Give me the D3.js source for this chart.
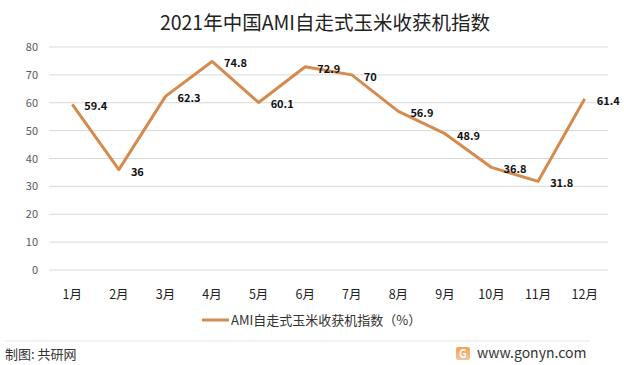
<!DOCTYPE html>
<html><head><meta charset="utf-8">
<script src="https://cdn.jsdelivr.net/npm/d3@7"></script>
<style>body{margin:0;background:#fff}svg{display:block}text{font-family:"Noto Sans CJK SC","Microsoft YaHei",sans-serif}</style>
</head><body>
<svg id="c" width="624" height="365"></svg>
<script>
const months = ["1月","2月","3月","4月","5月","6月","7月","8月","9月","10月","11月","12月"];
const values = [59.4,36,62.3,74.8,60.1,72.9,70,56.9,48.9,36.8,31.8,61.4];
const valueLabels = ["59.4","36","62.3","74.8","60.1","72.9","70","56.9","48.9","36.8","31.8","61.4"];
const yTicks = [0,10,20,30,40,50,60,70,80];
const title = "2021年中国AMI自走式玉米收获机指数";
const seriesName = "AMI自走式玉米收获机指数（%）";

const svg = d3.select("#c");
const color = "#D58B4E";
const x = d3.scaleBand().domain(months).range([49, 608]);
const y = d3.scaleLinear().domain([0,80]).range([270, 47]);

svg.append("text").attr("x",325).attr("y",30).attr("text-anchor","middle")
  .attr("font-size",19.5).attr("fill","#222").text(title);

svg.append("g").selectAll("line").data(yTicks).join("line")
  .attr("x1",49).attr("x2",608).attr("y1",d=>y(d)).attr("y2",d=>y(d))
  .attr("stroke","#d9d9d9").attr("stroke-width",1);
svg.append("g").selectAll("text").data(yTicks).join("text")
  .attr("x",38).attr("y",d=>y(d)+4).attr("text-anchor","end")
  .attr("font-size",11).attr("fill","#595959").text(d=>d);

svg.append("g").selectAll("text").data(months).join("text")
  .attr("x",d=>x(d)+x.bandwidth()/2).attr("y",298.5).attr("text-anchor","middle")
  .attr("font-size",12.5).attr("fill","#222").text(d=>d);

const line = d3.line().x((d,i)=>x(months[i])+x.bandwidth()/2).y(d=>y(d));
svg.append("path").datum(values).attr("d",line).attr("fill","none")
  .attr("stroke",color).attr("stroke-width",3).attr("stroke-linejoin","round");

svg.append("g").selectAll("text").data(values).join("text")
  .attr("x",(d,i)=>x(months[i])+x.bandwidth()/2+12).attr("y",d=>y(d)+6)
  .attr("font-size",11).attr("font-weight","bold").attr("fill","#111")
  .text((d,i)=>valueLabels[i]);

svg.append("line").attr("x1",202).attr("x2",229).attr("y1",320).attr("y2",320)
  .attr("stroke",color).attr("stroke-width",3);
svg.append("text").attr("x",231).attr("y",325).attr("font-size",13).attr("fill","#333").text(seriesName);

svg.append("line").attr("x1",5).attr("x2",590).attr("y1",341).attr("y2",341).attr("stroke","#e6e6e6");
svg.append("text").attr("x",5).attr("y",359).attr("font-size",13).attr("fill","#333").text("制图: 共研网");
const defs = svg.append("defs");
const gr = defs.append("linearGradient").attr("id","lg").attr("x1",0).attr("y1",0).attr("x2",0).attr("y2",1);
gr.append("stop").attr("offset","0").attr("stop-color","#F7A24F");
gr.append("stop").attr("offset","1").attr("stop-color","#F3C3A0");
const lg = svg.append("g").attr("transform","translate(456,347)");
lg.append("rect").attr("width",14).attr("height",13).attr("rx",2).attr("fill","url(#lg)");
lg.append("text").attr("x",7).attr("y",10.5).attr("text-anchor","middle").attr("font-size",11).attr("font-weight","bold").attr("fill","#fff").text("G");
svg.append("text").attr("x",477).attr("y",358).attr("font-size",14).attr("fill","#333").text("www.gonyn.com");
</script>
</body></html>
